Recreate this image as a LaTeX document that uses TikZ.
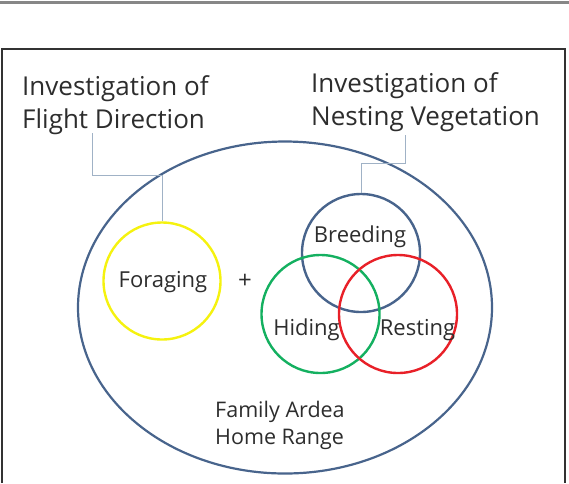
\documentclass[tikz,border=0pt]{standalone}
\usepackage{fontspec}
\setmainfont{Open Sans}
\usetikzlibrary{shapes.geometric}
\definecolor{rangeblue}{RGB}{72,100,140}
\definecolor{foryellow}{RGB}{245,242,15}
\definecolor{hidegreen}{RGB}{20,176,96}
\definecolor{restred}{RGB}{232,32,40}
\definecolor{leadergray}{RGB}{160,178,198}
\definecolor{textgray}{RGB}{45,45,45}
\definecolor{framegray}{RGB}{50,50,50}
\definecolor{topgray}{RGB}{135,135,135}
\tikzset{
  titletext/.style={anchor=base west, inner sep=0pt, text=textgray, font=\fontsize{26}{33}\selectfont},
  labeltext/.style={anchor=base, inner sep=0pt, text=textgray, font=\fontsize{22}{28}\selectfont},
  rangetext/.style={anchor=base west, inner sep=0pt, text=textgray, font=\fontsize{21.5}{28}\selectfont},
  ring/.style={circle, inner sep=0pt, line width=2.4pt},
  leader/.style={draw=leadergray, line width=1pt},
}
\begin{document}
\begin{tikzpicture}[x=1pt,y=-1pt]
\useasboundingbox (0,0) rectangle (569,483);
% top rule and frame
\draw[topgray, line width=3pt] (0,2) -- (569,2);
\draw[framegray, line width=2pt] (2,483) -- (2,49) -- (565,49) -- (565,483);
% home range
\node[ellipse, draw=rangeblue, line width=2.2pt, minimum width=414pt, minimum height=332pt, inner sep=0pt] (range) at (285,307.5) {};
% circles
\node[ring, draw=foryellow, minimum size=117pt] (forage) at (162,281) {};
\node[ring, draw=rangeblue, minimum size=118pt] (breed) at (361,253) {};
\node[ring, draw=hidegreen, minimum size=118pt] (hide) at (320.5,314) {};
\node[ring, draw=restred, minimum size=118pt] (rest) at (398,314) {};
% labels
\node[labeltext] (lforage) at (163,287) {Foraging};
\node[labeltext] (lbreed) at (360,242) {Breeding};
\node[labeltext] (lhide) at (306.5,335) {Hiding};
\node[labeltext] (lrest) at (417.5,335) {Resting};
\node[text=textgray, font=\fontsize{24}{28}\selectfont, inner sep=0pt] (plus) at (245,281) {+};
\node[rangetext] (fam1) at (215,417) {Family Ardea};
\node[rangetext] (fam2) at (215,444) {Home Range};
% titles
\node[titletext] (t1a) at (22,95) {Investigation of};
\node[titletext] (t1b) at (22,128) {Flight Direction};
\node[titletext] (t2a) at (311,92) {Investigation of};
\node[titletext] (t2b) at (311,125) {Nesting Vegetation};
% leaders
\coordinate (s1) at (92,133);
\coordinate (s2) at (405,135);
\draw[leader] (s1) -- ++(0,42) -| (forage.north);
\draw[leader] (s2) -- ++(0,28) -| (breed.north);
\end{tikzpicture}
\end{document}
